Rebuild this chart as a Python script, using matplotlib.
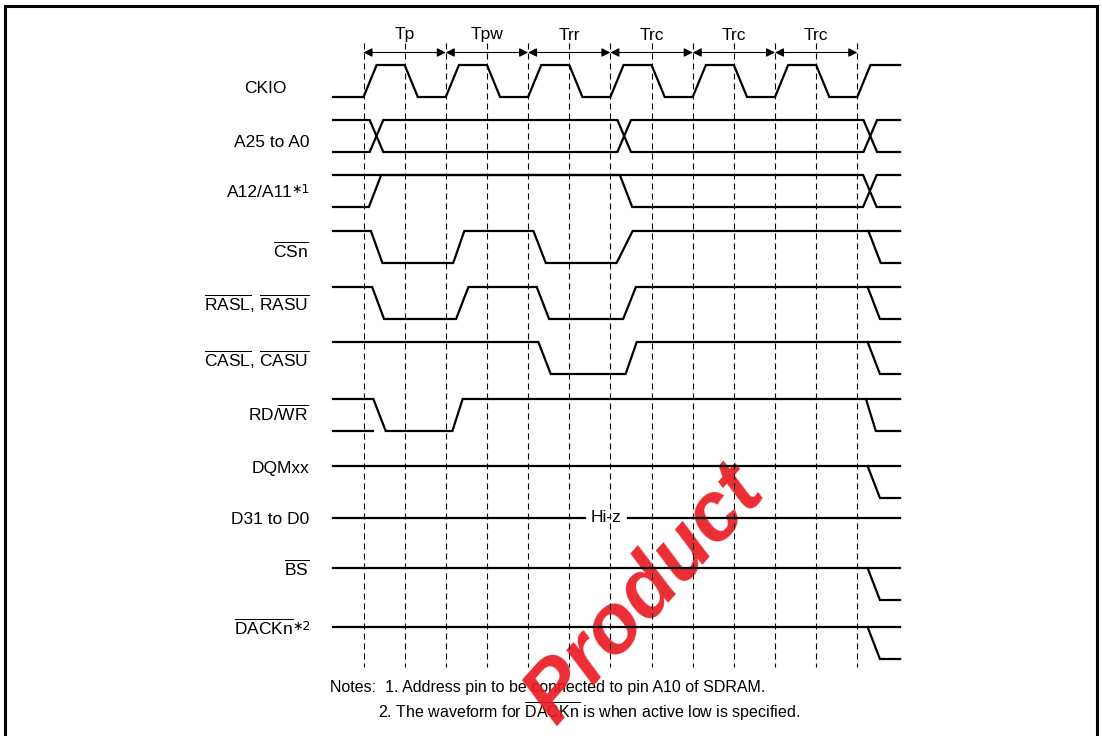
import matplotlib
matplotlib.use('Agg')
import matplotlib.pyplot as plt

plt.rcParams['font.family'] = ['Liberation Sans', 'DejaVu Sans']
plt.rcParams['mathtext.fontset'] = 'custom'
plt.rcParams['mathtext.rm'] = 'Liberation Sans'
plt.rcParams['mathtext.it'] = 'Liberation Sans:italic'
plt.rcParams['mathtext.bf'] = 'Liberation Sans:bold'

# time is counted in CKIO half cycles, dashed lines at 0..12
t_start, t_end = -0.74, 13.04
cycle_names = ['Tp', 'Tpw', 'Trr', 'Trc', 'Trc', 'Trc']
cycle_bounds = [0, 2, 4, 6, 8, 10, 12]
dash_times = list(range(13))

ck_rise = [0, 2, 4, 6, 8, 10, 12]
ck_fall = [1, 3, 5, 7, 9, 11]
ck_ramp = 0.32

addr_cross = [0.15, 6.17, 12.15]
addr_ramp = 0.33

hiz_gap = (5.38, 6.43)

# waveforms: list of traces, each trace is (time, level) points, level 1 = high
a12_wave = [
    [(t_start, 1), (12.14, 1), (12.47, 0), (t_end, 0)],
    [(t_start, 0), (0.13, 0), (0.43, 1), (6.23, 1), (6.53, 0), (12.14, 0), (12.47, 1), (t_end, 1)],
]
csn_wave = [
    [(t_start, 1), (0.18, 1), (0.46, 0), (2.18, 0), (2.45, 1), (4.13, 1), (4.43, 0),
     (6.15, 0), (6.54, 1), (t_end, 1)],
    [(12.27, 1), (12.57, 0), (t_end, 0)],
]
ras_wave = [
    [(t_start, 1), (0.21, 1), (0.5, 0), (2.25, 0), (2.55, 1), (4.21, 1), (4.51, 0),
     (6.31, 0), (6.62, 1), (t_end, 1)],
    [(12.25, 1), (12.55, 0), (t_end, 0)],
]
cas_wave = [
    [(t_start, 1), (4.25, 1), (4.55, 0), (6.37, 0), (6.64, 1), (t_end, 1)],
    [(12.25, 1), (12.55, 0), (t_end, 0)],
]
rdwr_wave = [
    [(t_start, 1), (0.24, 1), (0.54, 0), (2.16, 0), (2.41, 1), (t_end, 1)],
    [(t_start, 0), (0.24, 0)],
    [(12.21, 1), (12.45, 0), (t_end, 0)],
]
tail_wave = [
    [(t_start, 1), (t_end, 1)],
    [(12.25, 1), (12.55, 0), (t_end, 0)],
]


def clock_wave(rise, fall, ramp):
    edges = sorted([(t, 1) for t in rise] + [(t, 0) for t in fall])
    pts = [(t_start, 0)]
    lvl = 0
    for t, new in edges:
        pts += [(t, lvl), (t + ramp, new)]
        lvl = new
    pts.append((t_end, lvl))
    return [pts]


def bus_wave(cross, ramp):
    a, b = [(t_start, 1)], [(t_start, 0)]
    la, lb = 1, 0
    for t in cross:
        a += [(t, la), (t + ramp, lb)]
        b += [(t, lb), (t + ramp, la)]
        la, lb = lb, la
    a.append((t_end, la))
    b.append((t_end, lb))
    return [a, b]


signals = [
    ('CKIO', clock_wave(ck_rise, ck_fall, ck_ramp)),
    ('A25 to A0', bus_wave(addr_cross, addr_ramp)),
    ('A12/A11', a12_wave),
    (r'$\overline{\mathrm{CSn}}$', csn_wave),
    (r'$\overline{\mathrm{RASL}}$, $\overline{\mathrm{RASU}}$', ras_wave),
    (r'$\overline{\mathrm{CASL}}$, $\overline{\mathrm{CASU}}$', cas_wave),
    (r'RD/$\overline{\mathrm{WR}}$', rdwr_wave),
    ('DQMxx', tail_wave),
    ('D31 to D0', [[(t_start, 1), (hiz_gap[0], 1)], [(hiz_gap[1], 1), (t_end, 1)]]),
    (r'$\overline{\mathrm{BS}}$', tail_wave),
    (r'$\overline{\mathrm{DACKn}}$', tail_wave),
]
label_marks = {2: '\u22171', 10: '\u22172'}

# layout (pixels)
W, H = 1102, 736
x0, dx = 363.5, 41.15
row_high = [65, 120, 175, 231, 287, 342, 399, 466, 518, 568, 627]
swing = 32
label_base = [93, 147, 197, 257, 311, 367, 421, 473, 524, 575, 634]
label_right = [286, 309, 293, 309, 309, 309, 309, 309, 309, 309, 294]


def px(x):
    return (x - x0) / dx


fig = plt.figure(figsize=(W / 100, H / 100), dpi=100)
ax = fig.add_axes([0, 0, 1, 1])
ax.set_xlim(px(0), px(W))
ax.set_ylim(H, 0)
ax.axis('off')

fs = 12.5
ax.vlines(dash_times, 43, 667, colors='black', lw=0.8, linestyles=(0, (5.4, 3.6)), zorder=2)

for i, name in enumerate(cycle_names):
    a, b = cycle_bounds[i], cycle_bounds[i + 1]
    ax.annotate('', xy=(b, 52.5), xytext=(a, 52.5),
                arrowprops=dict(arrowstyle='<|-|>', lw=0.8, color='black',
                                mutation_scale=13, shrinkA=0, shrinkB=0), zorder=3)
    ax.text((a + b) / 2, 39.5, name, ha='center', va='baseline', fontsize=fs)

for i, (label, wave) in enumerate(signals):
    for trace in wave:
        ts = [p[0] for p in trace]
        ys = [row_high[i] + (1 - p[1]) * swing for p in trace]
        ax.plot(ts, ys, color='black', lw=1.6, solid_joinstyle='miter', zorder=3)
    ax.text(px(label_right[i]), label_base[i], label, ha='right', va='baseline', fontsize=fs)
    if i in label_marks:
        ax.text(px(label_right[i] - 2), label_base[i] - 4, label_marks[i], ha='left',
                va='baseline', fontsize=9, family=['DejaVu Sans'])

ax.text(sum(hiz_gap) / 2, row_high[8], 'Hi-z', ha='center', va='center', fontsize=fs)

fn = 11.5
ax.text(px(330), 692, 'Notes:  1. Address pin to be connected to pin A10 of SDRAM.',
        ha='left', va='baseline', fontsize=fn, zorder=1)
ax.text(px(378), 718, r'2. The waveform for $\overline{\mathrm{DACKn}}$ is when active low is specified.',
        ha='left', va='baseline', fontsize=fn, zorder=1)

# watermark
ax.text(px(645), 595, 'Product', ha='center', va='center', rotation=48, fontsize=60,
        fontweight='bold', fontstyle='italic', color='#ea1b24', alpha=0.92, zorder=1.5)

# frame
ax.plot([px(5), px(5), px(1097), px(1097)], [H + 5, 6, 6, H + 5], color='black', lw=2.2,
        solid_joinstyle='miter', zorder=4)

fig.savefig('out.png', dpi=100)
